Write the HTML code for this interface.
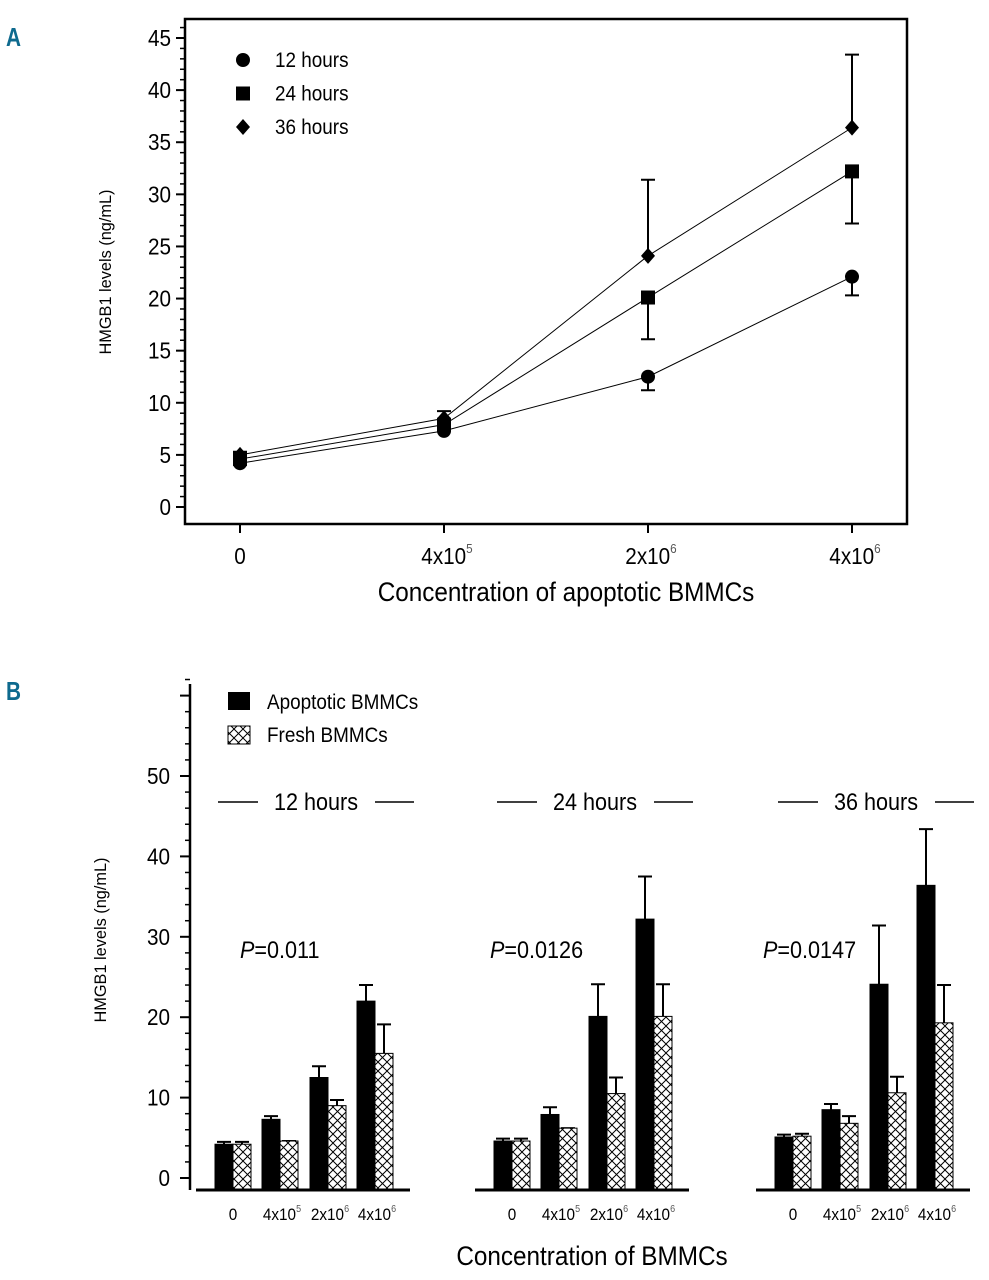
<!DOCTYPE html>
<html><head><meta charset="utf-8"><style>
body{margin:0;background:#fff;}
svg{display:block;font-family:"Liberation Sans",sans-serif;}
</style></head><body>
<svg id="fig" width="989" height="1280" viewBox="0 0 989 1280" xmlns="http://www.w3.org/2000/svg">
<defs>
<pattern id="hatch" width="9" height="9" patternUnits="userSpaceOnUse">
<rect width="9" height="9" fill="#fff"/>
<path d="M0,0 L9,9 M9,0 L0,9" stroke="#000" stroke-width="1"/>
</pattern>
</defs>
<text x="6" y="46" font-size="26" font-weight="bold" fill="#0e6a8e" transform="translate(6,0) scale(0.8,1) translate(-6,0)">A</text>
<text x="6" y="700" font-size="26" font-weight="bold" fill="#0e6a8e" transform="translate(6,0) scale(0.8,1) translate(-6,0)">B</text>
<g id="pa"></g>
<g id="pb"></g>
</svg>
<script>
// Panel A data
const catsA = ["0","4x10","2x10","4x10"];
const supA = ["","5","6","6"];
const seriesNames = ["12 hours","24 hours","36 hours"];
const h12 = [4.2, 7.3, 12.5, 22.1];
const h24 = [4.6, 7.9, 20.1, 32.2];
const h36 = [5.0, 8.5, 24.1, 36.4];
const err12 = [0.3, 0.3, -1.3, -1.8];
const err24 = [0.3, 0.4, -4.0, -5.0];
const err36 = [0.3, 0.7, 7.3, 7.0];
const ticksA = [0,5,10,15,20,25,30,35,40,45];
// Panel B data
const groupsB = ["12 hours","24 hours","36 hours"];
const pvals = ["=0.011","=0.0126","=0.0147"];
const apo = [[4.2,7.3,12.5,22.0],[4.6,7.9,20.1,32.2],[5.1,8.5,24.1,36.4]];
const apoErr = [[0.3,0.4,1.4,2.0],[0.3,0.9,4.0,5.3],[0.3,0.7,7.3,7.0]];
const fresh = [[4.2,4.6,9.0,15.5],[4.6,6.2,10.5,20.1],[5.2,6.8,10.6,19.3]];
const freshErr = [[0.3,0,0.7,3.6],[0.3,0,2.0,4.0],[0.3,0.9,2.0,4.7]];
const ticksB = [0,10,20,30,40,50];

const NS="http://www.w3.org/2000/svg";
const SX=0.9;
function mk(parent,tag,attrs,text){const e=document.createElementNS(NS,tag);for(const k in attrs)e.setAttribute(k,attrs[k]);if(text!==undefined)e.textContent=text;parent.appendChild(e);return e;}
function txt(parent,x,y,size,anchor,str,extra){
 const e=mk(parent,'text',Object.assign({x:0,y:0,'font-size':size,'text-anchor':anchor||'start',transform:`translate(${x},${y}) scale(${SX},1)`},extra||{}));
 if(str!==undefined&&str!==null)e.textContent=str;
 return e;
}

// ---- Panel A ----
const pa=document.getElementById('pa');
const yA=v=>507-v*(469/45);
const xA=i=>240+i*204;
let fr=mk(pa,'rect',{x:185,y:19,width:722,height:505,fill:'none',stroke:'#000','stroke-width':2.5});


for(let v=0;v<=46;v++){let t=mk(pa,'line',{x1:v%5==0?176:180,x2:185,y1:yA(v),y2:yA(v),stroke:'#000','stroke-width':v%5==0?2:1.5});

}
ticksA.forEach(v=>{let t=txt(pa,171,yA(v)+8,23,'end',String(v));

});
catsA.forEach((c,i)=>{let l=mk(pa,'line',{x1:xA(i),x2:xA(i),y1:524,y2:533,stroke:'#000','stroke-width':2});


let t=txt(pa,xA(i)+(supA[i]?3:0),564,23,'middle',c);
if(supA[i]){mk(t,'tspan',{dy:-11,'font-size':13,fill:'#555'},supA[i]);}

});
let ta=txt(pa,566,601,27,'middle','Concentration of apoptotic BMMCs');


let ya=mk(pa,'text',{x:0,y:0,'font-size':17,'text-anchor':'middle',transform:'translate(111,272) rotate(-90) scale(0.96,1)'},'HMGB1 levels (ng/mL)');


function marker(g,type,x,y){
 if(type==0)return mk(g,'circle',{cx:x,cy:y,r:7,fill:'#000'});
 if(type==1)return mk(g,'rect',{x:x-7,y:y-7,width:14,height:14,fill:'#000'});
 return mk(g,'polygon',{points:`${x},${y-8} ${x+7},${y} ${x},${y+8} ${x-7},${y}`,fill:'#000'});
}
[[h12,err12],[h24,err24],[h36,err36]].forEach(([vals,errs],s)=>{
 let pts=vals.map((v,i)=>xA(i)+','+yA(v)).join(' ');
 let pl=mk(pa,'polyline',{points:pts,fill:'none',stroke:'#000','stroke-width':1});
 
 
 vals.forEach((v,i)=>{
  let e=vals[i]+errs[i];
  let eb=mk(pa,'path',{d:`M${xA(i)},${yA(v)} V${yA(e)} M${xA(i)-7},${yA(e)} H${xA(i)+7}`,stroke:'#000','stroke-width':2,fill:'none'});
  
  
  let m=marker(pa,s,xA(i),yA(v));
  
  
 });
});
seriesNames.forEach((n,s)=>{let y=60+s*33.5;
 let m=marker(pa,s,243,y);
 
 
 let t=txt(pa,275,y+7,21,'start',n);
 
 });

// ---- Panel B ----
const pb=document.getElementById('pb');
const yB=v=>1178-v*8.04;
let ax=mk(pb,'line',{x1:190,x2:190,y1:684,y2:1190,stroke:'#000','stroke-width':2.5});


for(let v=0;v<=62;v+=2){let t=mk(pb,'line',{x1:v%10==0?180:185,x2:190,y1:yB(v),y2:yB(v),stroke:'#000','stroke-width':v%10==0?2:1.5});

}
ticksB.forEach(v=>{let t=txt(pb,170,yB(v)+8,23,'end',String(v));

});
let yb=mk(pb,'text',{x:0,y:0,'font-size':17,'text-anchor':'middle',transform:'translate(106,940) rotate(-90) scale(0.96,1)'},'HMGB1 levels (ng/mL)');


let tb=txt(pb,592,1265,27,'middle','Concentration of BMMCs');


// legend
let lr1=mk(pb,'rect',{x:228,y:692,width:22,height:18,fill:'#000'});


let lr2=mk(pb,'rect',{x:228,y:726,width:22,height:18,fill:'url(#hatch)',stroke:'#000','stroke-width':1});


let lt1=txt(pb,267,709,21,'start','Apoptotic BMMCs');


let lt2=txt(pb,267,742,21,'start','Fresh BMMCs');


const gStart=[215,494,775], off=[0,47,95,142], bw=18, pX=[240,490,763];
groupsB.forEach((g,gi)=>{
 const x0=gStart[gi];
 let base=mk(pb,'line',{x1:x0-19,x2:x0+195,y1:1190,y2:1190,stroke:'#000','stroke-width':3});
 
 
 let gl=mk(pb,'path',{d:`M${x0+3},802 H${x0+43} M${x0+160},802 H${x0+199}`,stroke:'#000','stroke-width':1.5});
 
 
 let gt=txt(pb,x0+101,810,24,'middle',g);
 
 
 let pt=txt(pb,pX[gi],958,24,'start',null);
 
 
 mk(pt,'tspan',{'font-style':'italic'},'P');
 mk(pt,'tspan',{},pvals[gi]);
 for(let i=0;i<4;i++){
  const xa=x0+off[i], xf=xa+bw;
  [[apo,apoErr,xa,'#000','apoptotic'],[fresh,freshErr,xf,'url(#hatch)','fresh']].forEach(([vals,errs,x,fill,nm])=>{
   const v=vals[gi][i], e=v+errs[gi][i];
   let eb=mk(pb,'path',{d:`M${x+bw/2},${yB(v)} V${yB(e)} M${x+2},${yB(e)} H${x+bw-2}`,stroke:'#000','stroke-width':2,fill:'none'});
   
   
   let r=mk(pb,'rect',{x:x,y:yB(v),width:bw,height:1189-yB(v),fill:fill,stroke:'#000','stroke-width':1});
   
   
  });
  let t=txt(pb,xa+bw+(supA[i]?2:0),1220,17,'middle',catsA[i]);
  if(supA[i]){mk(t,'tspan',{dy:-8,'font-size':10,fill:'#555'},supA[i]);}
  
  
 }
});
</script>
</body></html>
